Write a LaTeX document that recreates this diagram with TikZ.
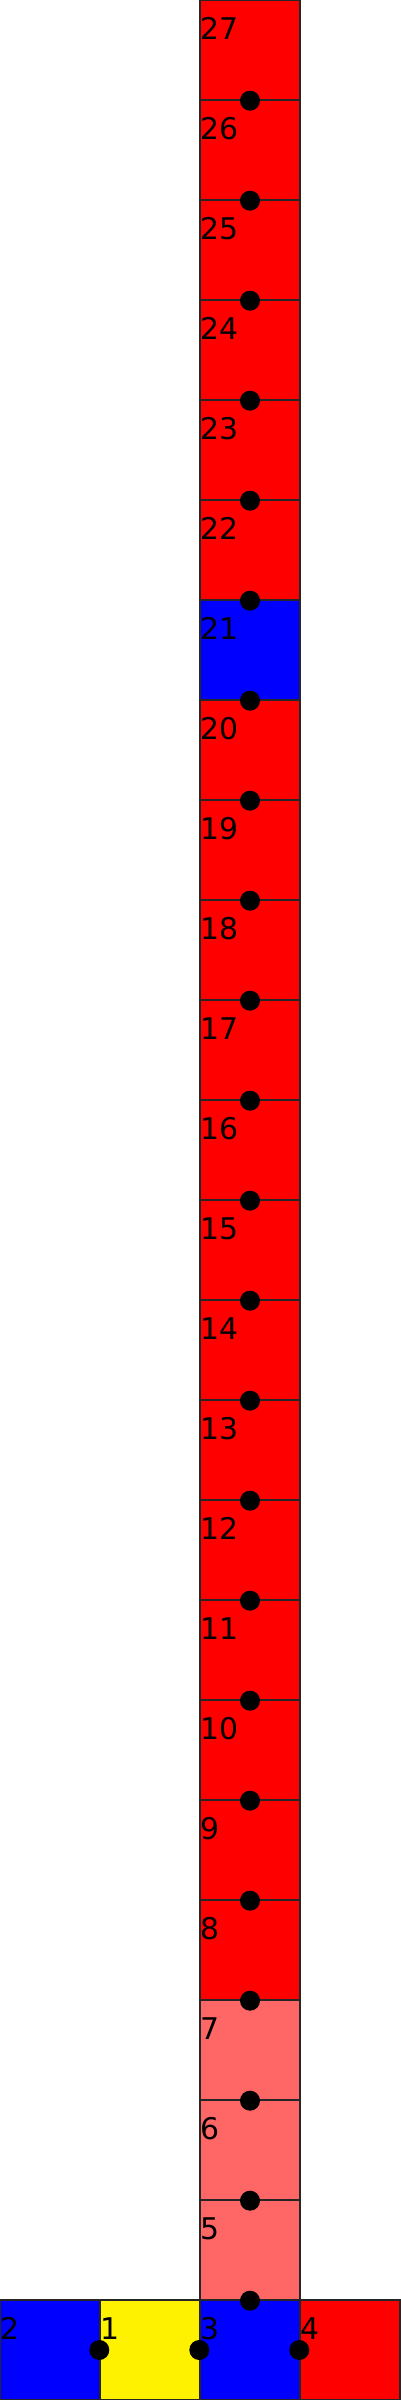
\documentclass[tikz,border=0pt]{standalone}
\usepackage{fontspec}
\setmainfont{DejaVu Sans}
\usepackage{tikz}

\definecolor{lightred}{HTML}{FF6666}

\tikzset{
  cell/.style={draw=black!85, line width=0.4pt, minimum size=1cm, inner sep=0pt},
  num/.style={anchor=base west, inner sep=0pt, yshift=-0.4cm, font=\fontsize{8.5pt}{10pt}\selectfont},
  dot/.style={circle, fill=black, minimum size=0.2cm, inner sep=0pt}
}

\begin{document}
\begin{tikzpicture}
  \fill[white] (0,0) rectangle (4,24);
  \useasboundingbox (0,0) rectangle (4,24);
  %% bottom row
  \node[cell, fill=blue] at (0.5,0.5) (C2) {};
  \node[cell, fill=yellow] at (1.5,0.5) (C1) {};
  \node[cell, fill=blue] at (2.5,0.5) (C3) {};
  \node[cell, fill=red] at (3.5,0.5) (C4) {};
  %% column
  \node[cell, fill=lightred] at (2.5,1.5) (C5) {};
  \node[cell, fill=lightred] at (2.5,2.5) (C6) {};
  \node[cell, fill=lightred] at (2.5,3.5) (C7) {};
  \node[cell, fill=red] at (2.5,4.5) (C8) {};
  \node[cell, fill=red] at (2.5,5.5) (C9) {};
  \node[cell, fill=red] at (2.5,6.5) (C10) {};
  \node[cell, fill=red] at (2.5,7.5) (C11) {};
  \node[cell, fill=red] at (2.5,8.5) (C12) {};
  \node[cell, fill=red] at (2.5,9.5) (C13) {};
  \node[cell, fill=red] at (2.5,10.5) (C14) {};
  \node[cell, fill=red] at (2.5,11.5) (C15) {};
  \node[cell, fill=red] at (2.5,12.5) (C16) {};
  \node[cell, fill=red] at (2.5,13.5) (C17) {};
  \node[cell, fill=red] at (2.5,14.5) (C18) {};
  \node[cell, fill=red] at (2.5,15.5) (C19) {};
  \node[cell, fill=red] at (2.5,16.5) (C20) {};
  \node[cell, fill=blue] at (2.5,17.5) (C21) {};
  \node[cell, fill=red] at (2.5,18.5) (C22) {};
  \node[cell, fill=red] at (2.5,19.5) (C23) {};
  \node[cell, fill=red] at (2.5,20.5) (C24) {};
  \node[cell, fill=red] at (2.5,21.5) (C25) {};
  \node[cell, fill=red] at (2.5,22.5) (C26) {};
  \node[cell, fill=red] at (2.5,23.5) (C27) {};
  %% numbers
  \foreach \n in {1,...,27}
    \node[num] at (C\n.north west) (N\n) {\n};
  %% dots
  \foreach \n in {5,...,27}
    \node[dot] at (C\n.south) (D\n) {};
  \node[dot] at (C1.west) (D1) {};
  \node[dot] at (C3.west) (D3) {};
  \node[dot] at (C4.west) (D4) {};
\end{tikzpicture}
\end{document}
